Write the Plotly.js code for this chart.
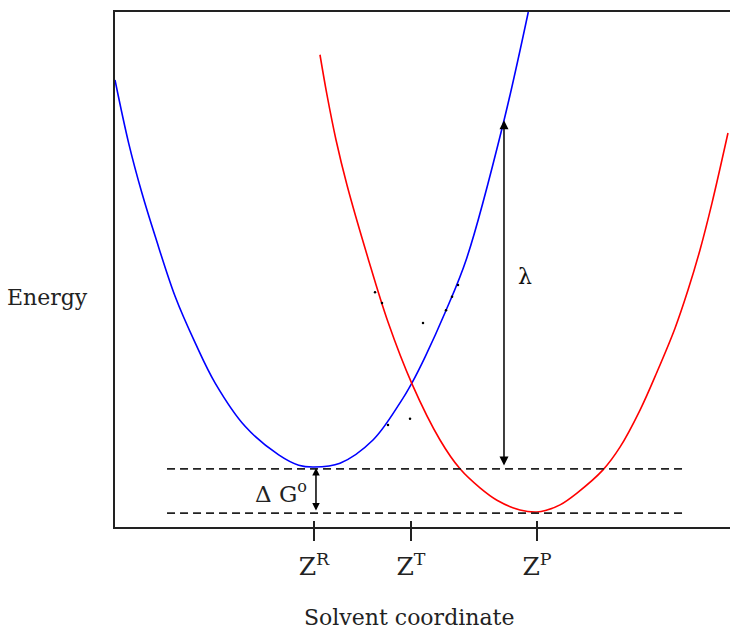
<!DOCTYPE html>
<html>
<head>
<meta charset="utf-8">
<script src="https://cdn.plot.ly/plotly-3.0.1.min.js"></script>
<style>html,body{margin:0;padding:0;background:#fff;}#chart{width:730px;height:629px;}</style>
</head>
<body>
<div id="chart"></div>
<script>
// Reactant free-energy curve (blue)
const reactantX = [0, 0.223, 0.439, 0.655, 0.980, 1.306, 1.631, 2.119, 2.662, 2.987, 3.236, 3.659, 4.195, 4.634, 4.829, 5.041, 5.366, 5.719, 6.314, 6.720];
const reactantY = [8.68, 7.45, 6.48, 5.64, 4.47, 3.57, 2.79, 1.95, 1.40, 1.20, 1.165, 1.24, 1.69, 2.41, 2.80, 3.30, 4.16, 5.22, 7.84, 10.0];
// Product free-energy curve (red)
const productX = [3.333, 3.447, 3.593, 3.772, 4.114, 4.439, 4.829, 5.285, 5.610, 5.935, 6.211, 6.585, 6.862, 7.024, 7.236, 7.512, 7.935, 8.211, 8.537, 8.813, 9.106, 9.317, 9.512, 9.707, 9.967];
const productY = [9.17, 8.39, 7.52, 6.64, 5.22, 3.98, 2.78, 1.69, 1.13, 0.76, 0.52, 0.33, 0.29, 0.33, 0.43, 0.66, 1.11, 1.55, 2.27, 3.01, 3.86, 4.60, 5.38, 6.29, 7.65];
// Stray dots in the drawing
const dotX = [4.228, 4.341, 5.382, 5.480, 5.577, 4.439, 5.008, 4.797];
const dotY = [4.56, 4.35, 4.21, 4.47, 4.70, 1.98, 3.96, 2.10];
// Energy levels (dashed)
const levelY = [1.13, 0.27];
const levelX = [0.846, 9.268];
// Axis ticks
const tickVals = [3.236, 4.813, 6.862];
const tickText = ['Z<sup>R</sup>', 'Z<sup>T</sup>', 'Z<sup>P</sup>'];
// Arrows
const lambdaX = 6.325, lambdaTop = 7.90, lambdaBottom = 1.165;
const dGX = 3.268, dGTop = 1.145, dGBottom = 0.29;
const labelDG = 'Δ G<sup>o</sup>';
const labelLambda = 'λ';

const serif = 'DejaVu Serif, serif';
const traces = [
  {x: reactantX, y: reactantY, mode: 'lines', line: {color: '#0000ff', width: 1.6, shape: 'spline', smoothing: 1}, hoverinfo: 'skip'},
  {x: productX, y: productY, mode: 'lines', line: {color: '#ff0000', width: 1.6, shape: 'spline', smoothing: 1}, hoverinfo: 'skip'},
  {x: dotX, y: dotY, mode: 'markers', marker: {color: '#000', size: 2.5}, hoverinfo: 'skip'}
];
levelY.forEach(function (ly) {
  traces.push({x: levelX, y: [ly, ly], mode: 'lines', line: {color: '#222', width: 1.8, dash: '8px,5px'}, hoverinfo: 'skip'});
});
// inside tick stubs (ticks cross the axis line)
traces.push({x: tickVals, y: tickVals.map(function(){return null;}), xaxis: 'x2', mode: 'markers', hoverinfo: 'skip'});

const layout = {
  width: 730, height: 629,
  margin: {l: 115, r: 0, t: 12, b: 102},
  paper_bgcolor: '#fff', plot_bgcolor: '#fff',
  showlegend: false,
  font: {family: serif, color: '#222'},
  xaxis: {
    range: [0, 10], showgrid: false, zeroline: false,
    showline: true, linecolor: '#222', linewidth: 2, mirror: true,
    tickmode: 'array', tickvals: tickVals, ticktext: tickText,
    ticks: 'outside', ticklen: 12, tickwidth: 1.6, tickcolor: '#222',
    ticklabelstandoff: 4,
    tickfont: {family: serif, size: 25, color: '#222'}
  },
  xaxis2: {
    range: [0, 10], overlaying: 'x', showgrid: false, zeroline: false, showline: false,
    tickmode: 'array', tickvals: tickVals, showticklabels: false,
    ticks: 'inside', ticklen: 6, tickwidth: 1.6, tickcolor: '#222', side: 'bottom', anchor: 'y'
  },
  yaxis: {
    range: [0, 10], showgrid: false, zeroline: false,
    showline: true, linecolor: '#222', linewidth: 2, mirror: false,
    showticklabels: false, ticks: ''
  },
  annotations: [
    {x: lambdaX, y: lambdaTop, ax: lambdaX, ay: lambdaBottom, xref: 'x', yref: 'y', axref: 'x', ayref: 'y',
     showarrow: true, arrowhead: 2, startarrowhead: 2, arrowside: 'end+start', arrowsize: 1.2, arrowwidth: 1.5, arrowcolor: '#000', text: ''},
    {x: dGX, y: dGTop, ax: dGX, ay: dGBottom, xref: 'x', yref: 'y', axref: 'x', ayref: 'y',
     showarrow: true, arrowhead: 2, startarrowhead: 2, arrowside: 'end+start', arrowsize: 1, arrowwidth: 1.5, arrowcolor: '#000', text: ''},
    {x: 6.667, y: 4.87, xref: 'x', yref: 'y', text: labelLambda, showarrow: false, font: {family: serif, size: 22, color: '#111'}},
    {x: 2.70, y: 0.68, xref: 'x', yref: 'y', text: labelDG, showarrow: false, font: {family: serif, size: 23, color: '#222'}},
    {x: -0.11, y: 0.445, xref: 'paper', yref: 'paper', xanchor: 'center', yanchor: 'middle', text: 'Energy', showarrow: false, font: {family: serif, size: 22, color: '#222'}},
    {x: 0.478, y: -0.175, xref: 'paper', yref: 'paper', xanchor: 'center', yanchor: 'middle', text: 'Solvent coordinate', showarrow: false, font: {family: serif, size: 22, color: '#222'}}
  ]
};
Plotly.newPlot('chart', traces, layout, {staticPlot: true, displayModeBar: false});
</script>
</body>
</html>
